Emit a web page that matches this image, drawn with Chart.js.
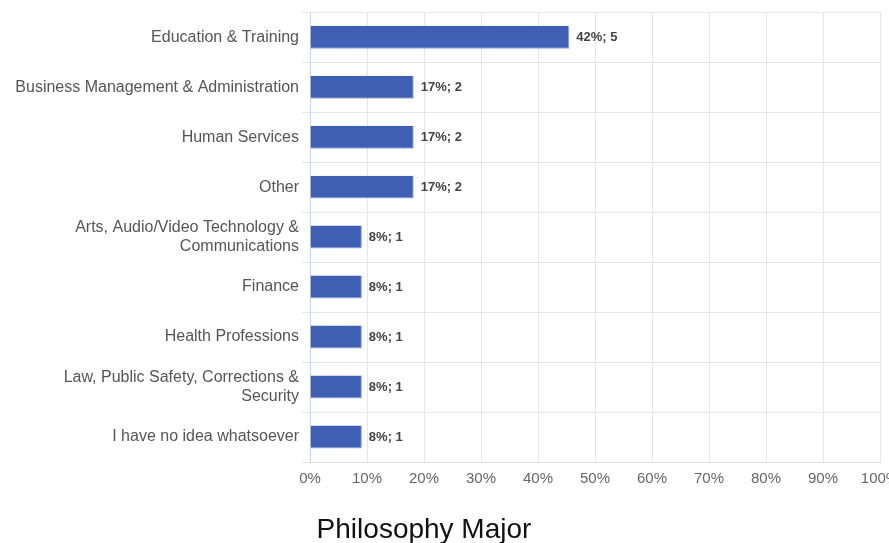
<!DOCTYPE html>
<html>
<head>
<meta charset="utf-8">
<script src="https://cdn.jsdelivr.net/npm/chart.js@4/dist/chart.umd.min.js"></script>
<style>
  html, body { margin: 0; padding: 0; background: #fff; overflow: hidden; }
</style>
</head>
<body>
<canvas id="chart" width="889" height="543"></canvas>
<script>
const categories = [
  'Education & Training',
  'Business Management & Administration',
  'Human Services',
  'Other',
  ['Arts, Audio/Video Technology &', 'Communications'],
  'Finance',
  'Health Professions',
  ['Law, Public Safety, Corrections &', 'Security'],
  'I have no idea whatsoever'
];
// bar lengths as drawn in the picture (percent)
const barValues = [45.5, 18.2, 18.2, 18.2, 9.1, 9.1, 9.1, 9.1, 9.1];
// printed labels
const percentLabels = [42, 17, 17, 17, 8, 8, 8, 8, 8];
const counts = [5, 2, 2, 2, 1, 1, 1, 1, 1];
const xTicks = [0, 10, 20, 30, 40, 50, 60, 70, 80, 90, 100];
const chartTitle = 'Philosophy Major';

const FONT = '"Liberation Sans", Arial, sans-serif';

const valueLabels = {
  id: 'valueLabels',
  afterDatasetsDraw(chart) {
    const ctx = chart.ctx;
    const meta = chart.getDatasetMeta(0);
    ctx.save();
    ctx.font = 'bold 13px ' + FONT;
    ctx.fillStyle = '#444';
    ctx.textAlign = 'left';
    ctx.textBaseline = 'middle';
    meta.data.forEach((bar, i) => {
      ctx.fillText(percentLabels[i] + '%; ' + counts[i], bar.x + 7, bar.y);
    });
    ctx.restore();
  }
};

const bottomTitle = {
  id: 'bottomTitle',
  afterDraw(chart) {
    const ctx = chart.ctx;
    ctx.save();
    ctx.font = '28px ' + FONT;
    ctx.fillStyle = '#111';
    ctx.textAlign = 'center';
    ctx.textBaseline = 'alphabetic';
    ctx.fillText(chartTitle, 424, 538);
    ctx.restore();
  }
};

new Chart(document.getElementById('chart'), {
  type: 'bar',
  data: {
    labels: categories,
    datasets: [{
      data: barValues,
      backgroundColor: '#3f5fb5',
      borderColor: '#8fa6db',
      borderWidth: { right: 1, bottom: 1 },
      categoryPercentage: 1,
      barPercentage: 0.46
    }]
  },
  options: {
    indexAxis: 'y',
    responsive: false,
    animation: false,
    layout: { padding: { top: 12, bottom: 51, left: 0, right: 9 } },
    plugins: {
      legend: { display: false },
      tooltip: { enabled: false },
      title: { display: false }
    },
    scales: {
      x: {
        min: 0,
        max: 100,
        afterBuildTicks(scale) {
          scale.ticks = xTicks.map(v => ({ value: v }));
        },
        afterFit(scale) {
          scale.height = 30;
          // let the last tick label run off the edge like the original
          scale.paddingRight = 0;
          scale.paddingLeft = 0;
        },
        grid: { color: '#e6e6e6', drawTicks: false },
        border: { color: '#e0e0e0' },
        ticks: {
          padding: 8,
          color: '#666',
          font: { family: FONT, size: 15 },
          callback: v => v + '%'
        }
      },
      y: {
        afterFit(scale) { scale.width = 310; },
        grid: { color: '#e6e6e6', tickLength: 8, offset: true },
        border: { color: '#c8d5ee' },
        ticks: {
          padding: 3,
          color: '#555',
          font: { family: FONT, size: 16, lineHeight: 1.15 }
        }
      }
    }
  },
  plugins: [valueLabels, bottomTitle]
});
</script>
</body>
</html>
